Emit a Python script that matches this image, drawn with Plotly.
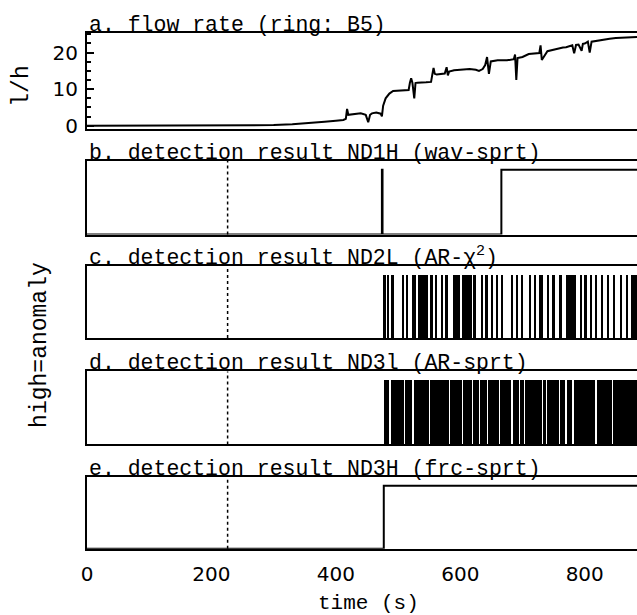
import plotly.graph_objects as go
from plotly.subplots import make_subplots

# ---------------- data ----------------
# a. flow rate (l/h) vs time (s)
flow_t = [0, 200, 260, 300, 330, 360, 382, 400, 412, 416, 418, 420, 430, 440, 448, 452, 455, 458,
          465, 472, 474, 476, 480, 486, 492, 500, 510, 517, 519, 521, 523, 526, 528, 531, 545, 553,
          555, 557, 559, 562, 575, 578, 580, 582, 590, 600, 615, 625, 630, 636, 640, 643, 646, 649,
          652, 660, 675, 686, 688, 690, 692, 700, 710, 720, 727, 729, 731, 740, 745, 750, 755, 765,
          770, 775, 780, 783, 786, 790, 795, 797, 800, 805, 808, 811, 820, 830, 835, 840, 850, 860,
          870, 884]
flow_v = [0, 0, 0.05, 0.2, 0.4, 0.7, 1.1, 1.4, 1.6, 1.9, 4.6, 3.0, 3.2, 3.4, 3.0, 1.0, 3.0, 3.4,
          3.6, 3.3, 2.6, 5.5, 7.5, 8.8, 9.5, 9.6, 9.7, 9.8, 11.8, 13.0, 11.8, 7.5, 11.7, 11.8, 11.9, 12.0,
          14.0, 15.8, 14.2, 14.0, 14.3, 16.0, 13.8, 14.8, 15.2, 15.4, 15.5, 15.3, 15.0, 15.5, 16.6, 18.8, 14.2, 17.6,
          17.7, 17.9, 17.9, 18.2, 19.5, 12.5, 18.5, 18.8, 19.6, 19.8, 19.9, 22.0, 18.0, 20.4, 20.6, 20.8, 21.2, 21.4,
          21.5, 21.8, 22.0, 19.8, 22.1, 22.2, 20.5, 22.4, 22.5, 23.0, 20.0, 23.0, 23.3, 23.5, 23.6, 23.8, 24.0, 24.1,
          24.2, 24.3]

# b. ND1H (wav-sprt) detection signal (step changes)
b_t = [0, 474, 475, 666, 884]
b_v = [0, 1, 0, 1, 1]

# c. ND2L (AR-chi2): intervals with alarm activity (start, end)
c_start = [477, 483, 490, 507, 513, 522, 532, 551, 559, 569, 576, 588, 603, 622, 634, 641, 650, 657,
           667, 681, 689, 698, 712, 718, 727, 740, 748, 760, 770, 792, 800, 808, 817, 826, 836, 845,
           856, 866, 875]
c_end = [480, 486, 493, 510, 516, 528, 548, 556, 563, 571, 580, 600, 618, 625, 637, 644, 653, 661,
         669, 685, 693, 701, 714, 722, 733, 743, 752, 763, 786, 796, 803, 812, 820, 830, 839, 849,
         860, 870, 884]

# d. ND3l (AR-sprt): intervals with alarm activity
d_start = [477, 488, 511, 525, 551, 584, 605, 621, 632, 645, 664, 684, 696, 704, 734, 739, 760, 771,
           782, 819, 846]
d_end = [486, 509, 523, 549, 582, 603, 619, 630, 643, 662, 682, 694, 702, 732, 737, 758, 769, 780,
         817, 844, 884]

# e. ND3H (frc-sprt)
e_t = [0, 477, 884]
e_v = [0, 1, 1]

event_time = 226          # dotted marker
x_ticks = [0, 200, 400, 600, 800]
x_range = [0, 884]

titles = ["a. flow rate (ring: B5)",
          "b. detection result ND1H (wav-sprt)",
          "c. detection result ND2L (AR-\u03c7<sup>2</sup>)",
          "d. detection result ND3l (AR-sprt)",
          "e. detection result ND3H (frc-sprt)"]

# ---------------- layout geometry ----------------
W, H = 637, 615
panel_px = [(33, 131), (163, 238), (270, 343), (377, 451), (484, 557)]  # (top, bottom) pixel rows
txt = "Liberation Mono"
sans = "DejaVu Sans"

fig = make_subplots(rows=5, cols=1, shared_xaxes=True)

fig.add_trace(go.Scatter(x=flow_t, y=flow_v, mode="lines",
                         line=dict(color="black", width=2)), row=1, col=1)
fig.add_trace(go.Scatter(x=b_t, y=b_v, mode="lines", line_shape="hv",
                         line=dict(color="black", width=2)), row=2, col=1)
fig.add_trace(go.Bar(x=[(s + e) / 2 for s, e in zip(c_start, c_end)],
                     y=[1] * len(c_start), base=0,
                     width=[e - s for s, e in zip(c_start, c_end)],
                     marker=dict(color="black", line=dict(width=0))), row=3, col=1)
fig.add_trace(go.Bar(x=[(s + e) / 2 for s, e in zip(d_start, d_end)],
                     y=[1] * len(d_start), base=0,
                     width=[e - s for s, e in zip(d_start, d_end)],
                     marker=dict(color="black", line=dict(width=0))), row=4, col=1)
fig.add_trace(go.Scatter(x=e_t, y=e_v, mode="lines", line_shape="hv",
                         line=dict(color="black", width=2)), row=5, col=1)

for i, (top, bot) in enumerate(panel_px, start=1):
    ya = "yaxis" if i == 1 else f"yaxis{i}"
    xa = "xaxis" if i == 1 else f"xaxis{i}"
    fig.layout[ya].domain = [1 - bot / H, 1 - top / H]
    fig.layout[xa].update(range=x_range, showline=True, mirror=True, linecolor="black",
                          linewidth=2, showgrid=False, zeroline=False, ticks="",
                          tickvals=x_ticks, showticklabels=(i == 5),
                          tickfont=dict(family=sans, size=20, color="black"),
                          ticklabelstandoff=6)
    if i == 1:
        fig.layout[ya].update(range=[-0.9, 25.5], showline=True, linecolor="black", linewidth=2,
                              showgrid=False, zeroline=False, ticks="inside", ticklen=7,
                              tickwidth=2, tickcolor="black", tickvals=[0, 10, 20],
                              tickfont=dict(family=sans, size=20, color="black"),
                              ticklabelstandoff=3,
                              minor=dict(ticks="inside", ticklen=4, tickwidth=1.5,
                                         tickcolor="black", dtick=2.5, showgrid=False))
    else:
        fig.layout[ya].update(range=[0, 1.14], showline=True, linecolor="black", linewidth=2,
                              showgrid=False, zeroline=False, ticks="", showticklabels=False)
        fig.add_shape(type="line", xref=f"x{i}", yref=f"y{i} domain",
                      x0=event_time, x1=event_time, y0=0, y1=1,
                      line=dict(color="black", width=1.5, dash="dot"))
    fig.add_annotation(text=titles[i - 1], xref="paper", yref="paper", x=0.0, y=1 - top / H,
                       xanchor="left", yanchor="bottom", showarrow=False, yshift=-6,
                       font=dict(family=txt, size=21.5, color="black"))

fig.add_annotation(text="l/h", xref="paper", yref="paper", x=(22 - 87) / 550, y=1 - 88 / H,
                   textangle=-90, showarrow=False, xanchor="center", yanchor="middle",
                   font=dict(family=txt, size=23, color="black"))
fig.add_annotation(text="high=anomaly", xref="paper", yref="paper", x=(40 - 87) / 550,
                   y=1 - 350 / H, textangle=-90, showarrow=False, xanchor="center",
                   yanchor="middle", font=dict(family=txt, size=23, color="black"))
fig.add_annotation(text="time (s)", xref="paper", yref="paper", x=(368 - 87) / 550,
                   y=1 - 612 / H, showarrow=False, xanchor="center", yanchor="middle",
                   font=dict(family=txt, size=21, color="black"))

fig.update_layout(width=W, height=H, margin=dict(l=87, r=0, t=0, b=0),
                  plot_bgcolor="white", paper_bgcolor="white", showlegend=False,
                  bargap=0)

fig.write_html("out.html")
